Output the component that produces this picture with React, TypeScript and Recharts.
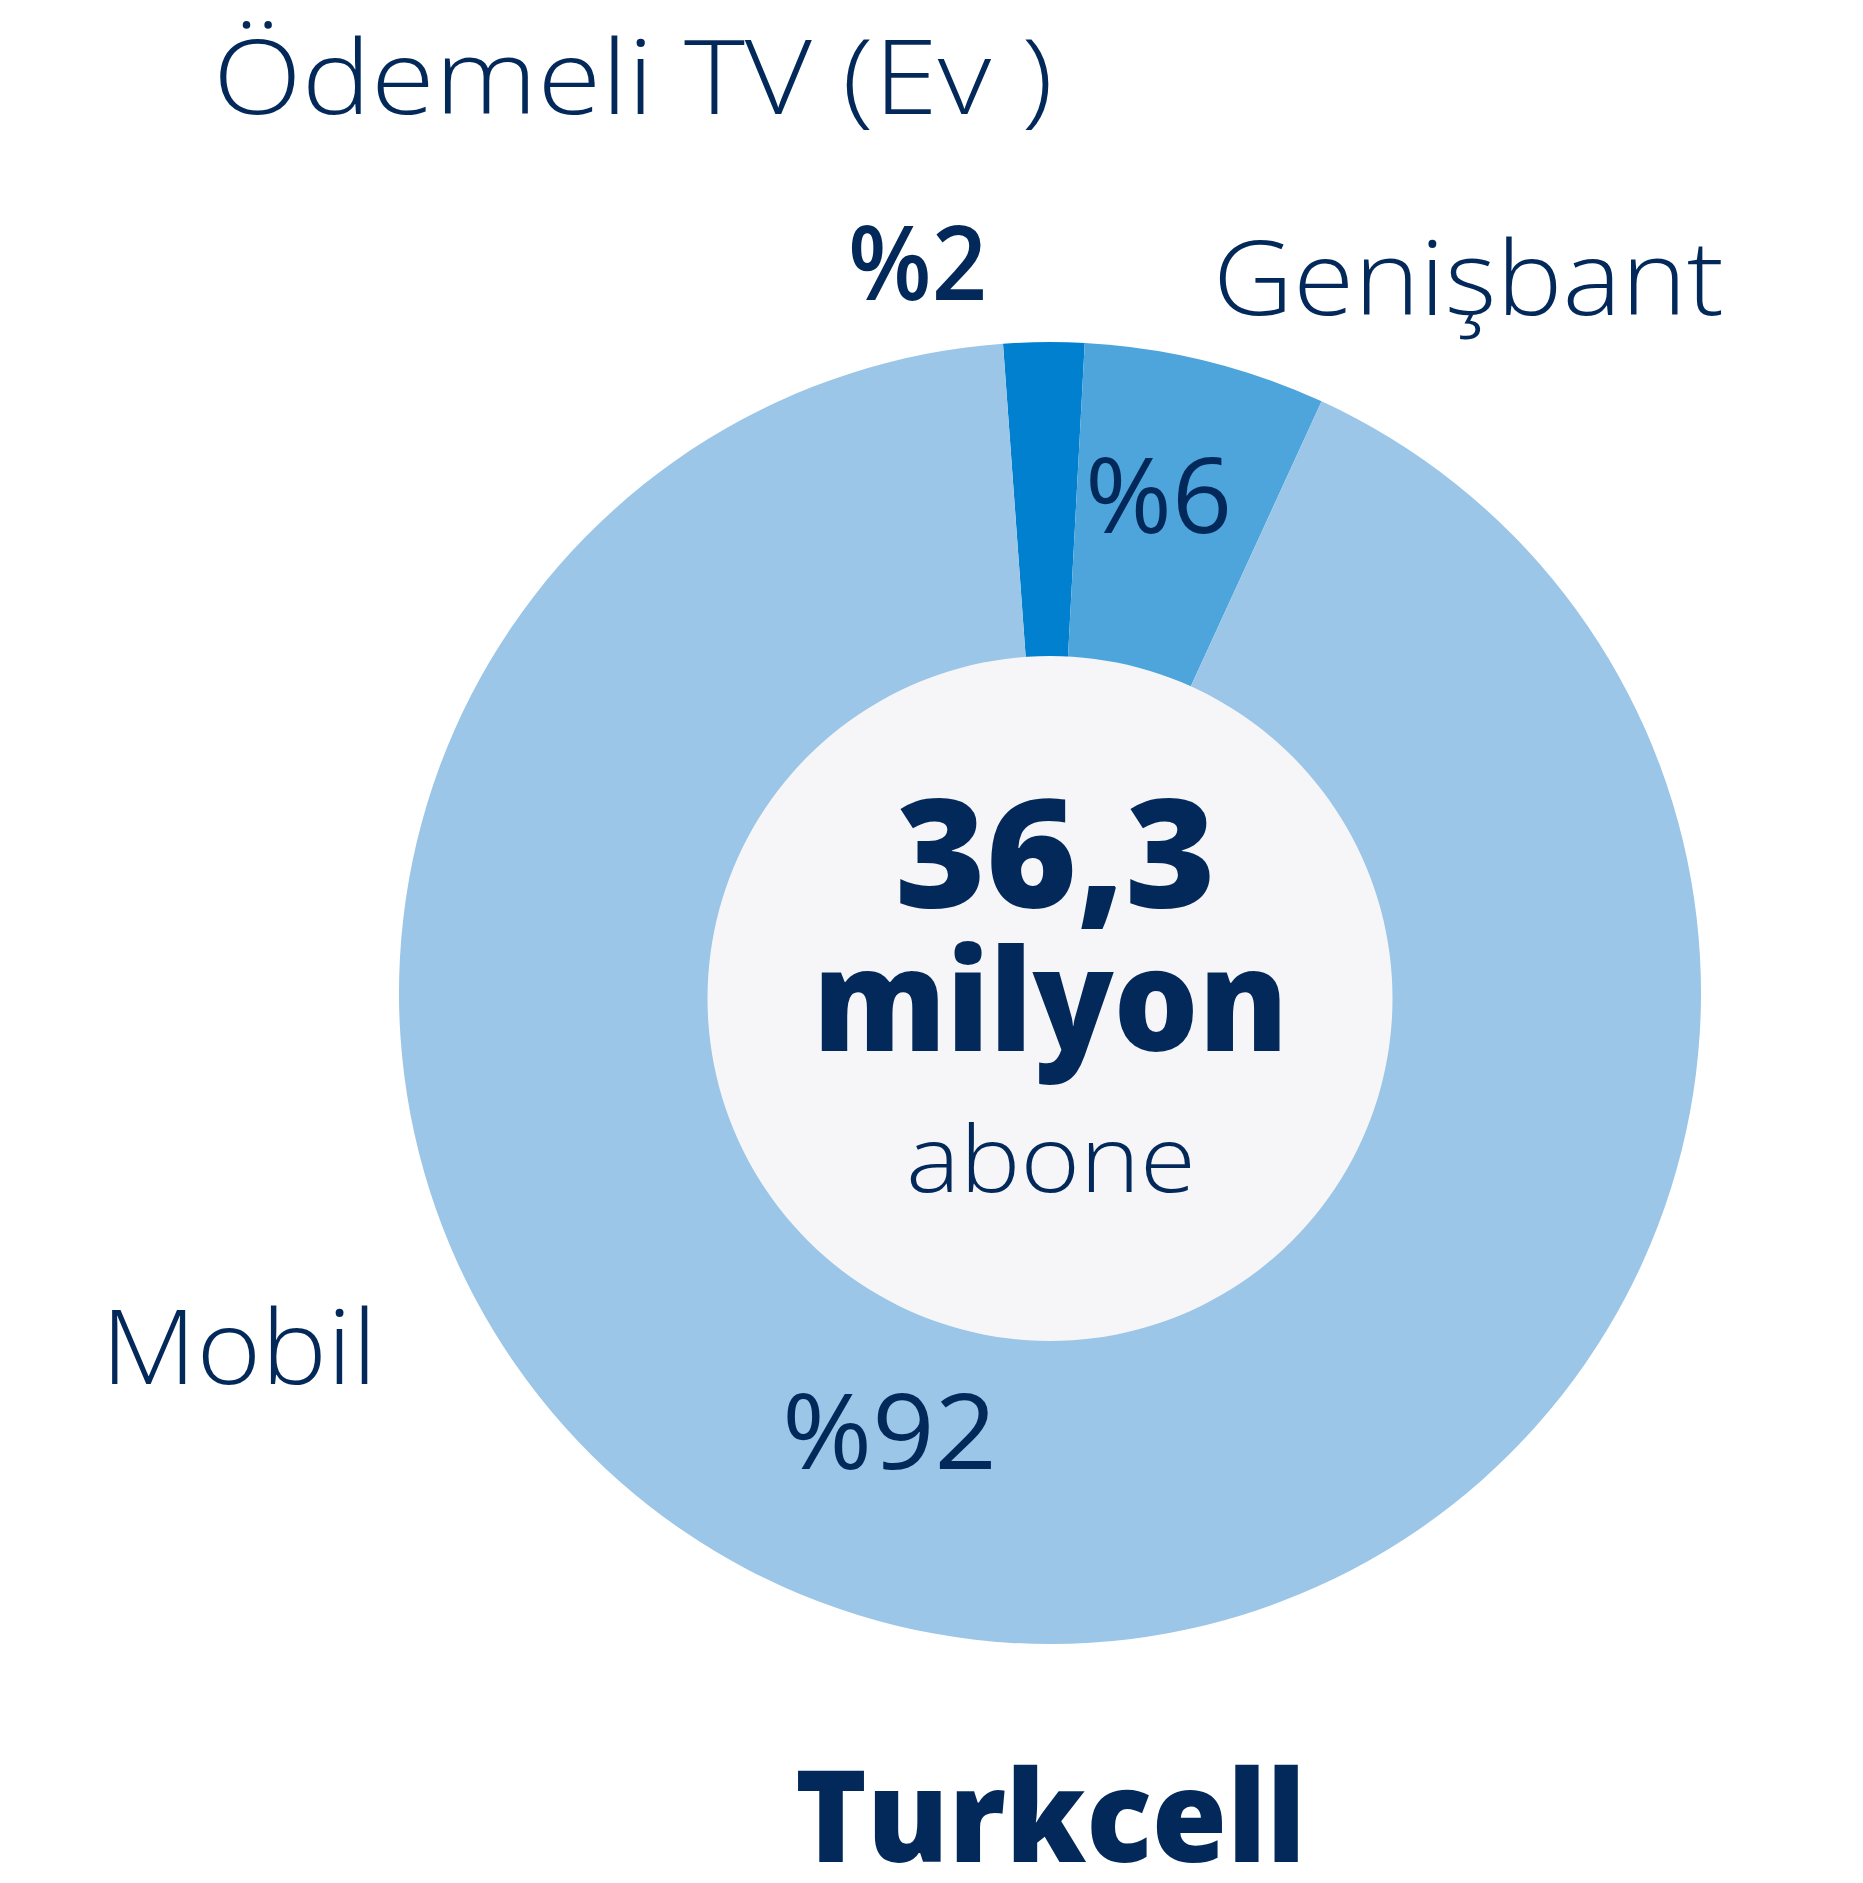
import React from "react";
import { PieChart, Pie, Cell } from "recharts";

// ---- data ----
const categories = ["Ödemeli TV (Ev )", "Genişbant", "Mobil"];
const shares = [2, 6, 92];
const totalValue = "36,3";
const totalUnit = "milyon";
const totalCaption = "abone";
const brand = "Turkcell";

// ---- style / layout ----
const W = 1863;
const H = 1883;
const NAVY = "#03285a";
const COLORS = ["#0080cf", "#4ea5dc", "#9bc6e7"];
const INNER_FILL = "#f6f6f9";
const FONT = "'Open Sans', 'Noto Sans', sans-serif";

const nameLayout = [
  { x: 213, y: 114, w: 840 },
  { x: 1213, y: 315, w: 511 },
  { x: 101, y: 1384, w: 276 },
];
const pctLayout = [
  { x: 848, y: 300, w: 139, weight: 550 },
  { x: 1085, y: 533, w: 147, weight: 400 },
  { x: 782, y: 1469, w: 215, weight: 400 },
];

const pieData = categories.map((name, i) => ({ name, value: shares[i] }));
const innerData = [{ name: "center", value: 1 }];

const renderPct = (props: any) => {
  const i = props.index;
  const p = pctLayout[i];
  return (
    <text
      key={"pct" + i}
      x={p.x}
      y={p.y}
      fill={NAVY}
      fontFamily={FONT}
      fontWeight={p.weight}
      fontSize={104}
      textLength={p.w}
      lengthAdjust="spacingAndGlyphs"
    >
      {"%" + shares[i]}
    </text>
  );
};

const renderCenter = () => (
  <g key="center">
    <text
      x={895}
      y={908}
      fill={NAVY}
      fontFamily={FONT}
      fontWeight={800}
      fontSize={150}
      textLength={321}
      lengthAdjust="spacingAndGlyphs"
    >
      {totalValue}
    </text>
    <text
      x={813}
      y={1051}
      fill={NAVY}
      fontFamily={FONT}
      fontWeight={800}
      fontSize={142}
      textLength={475}
      lengthAdjust="spacingAndGlyphs"
    >
      {totalUnit}
    </text>
    <text
      x={906}
      y={1192}
      fill={NAVY}
      fontFamily={FONT}
      fontWeight={350}
      fontSize={92}
      textLength={290}
      lengthAdjust="spacingAndGlyphs"
    >
      {totalCaption}
    </text>
  </g>
);

export default function App() {
  return (
    <div style={{ position: "absolute", left: 0, top: 0, background: "#fff" }}>
      <PieChart width={W} height={H} margin={{ top: 0, right: 0, bottom: 0, left: 0 }}>
        <Pie
          data={pieData}
          dataKey="value"
          nameKey="name"
          cx={1050}
          cy={993}
          innerRadius={0}
          outerRadius={651}
          startAngle={94.14}
          endAngle={-265.86}
          stroke="none"
          isAnimationActive={false}
          label={renderPct}
          labelLine={false}
        >
          {pieData.map((d, i) => (
            <Cell key={d.name} fill={COLORS[i]} />
          ))}
        </Pie>
        <Pie
          data={innerData}
          dataKey="value"
          cx={1050}
          cy={998.5}
          innerRadius={0}
          outerRadius={342.5}
          stroke="none"
          fill={INNER_FILL}
          isAnimationActive={false}
          label={renderCenter}
          labelLine={false}
        />
        {categories.map((c, i) => (
          <text
            key={c}
            x={nameLayout[i].x}
            y={nameLayout[i].y}
            fill={NAVY}
            fontFamily={FONT}
            fontWeight={350}
            fontSize={104}
            textLength={nameLayout[i].w}
            lengthAdjust="spacingAndGlyphs"
          >
            {c}
          </text>
        ))}
        <text
          x={795}
          y={1862}
          fill={NAVY}
          fontFamily={FONT}
          fontWeight={800}
          fontSize={128}
          textLength={511}
          lengthAdjust="spacingAndGlyphs"
        >
          {brand}
        </text>
      </PieChart>
    </div>
  );
}
